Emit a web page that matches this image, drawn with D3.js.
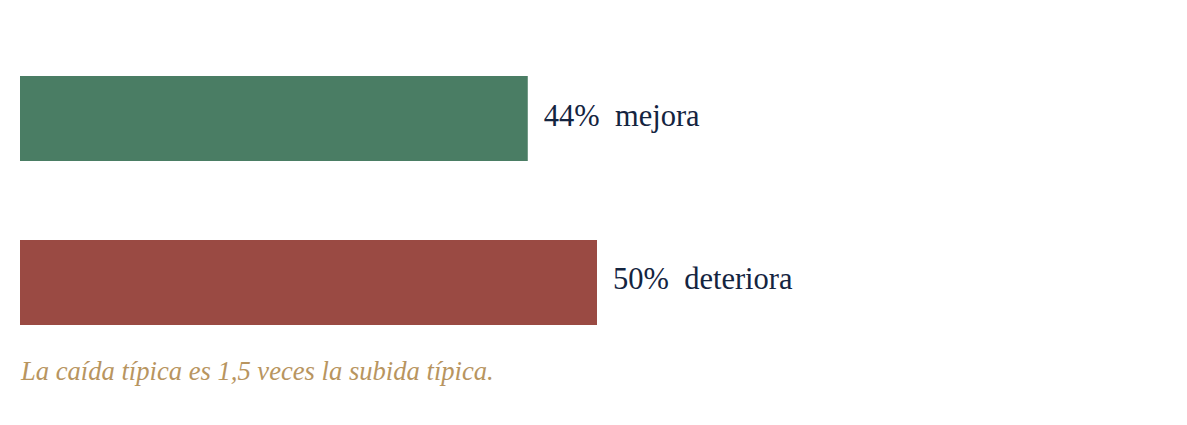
<!DOCTYPE html>
<html>
<head>
<meta charset="utf-8">
<script src="https://cdn.jsdelivr.net/npm/d3@7"></script>
<style>
  body { margin: 0; background: #fff; }
  svg { display: block; }
</style>
</head>
<body>
<svg width="1187" height="425"></svg>
<script>
const categories = ['mejora', 'deteriora'];
const values = [44, 50];
const colors = ['#4a7d64', '#9a4a43'];
const note = 'La caída típica es 1,5 veces la subida típica.';

const svg = d3.select('svg');

const xScale = d3.scaleLinear().domain([0, 100]).range([20, 1174]);
const yScale = d3.scaleBand().domain(categories).range([76, 325]).paddingInner(0.4817).paddingOuter(0);

const rows = svg.selectAll('.row')
  .data(categories)
  .enter()
  .append('g')
  .classed('row', true);

rows.append('rect')
  .attr('x', xScale(0))
  .attr('y', d => yScale(d))
  .attr('width', (d, i) => xScale(values[i]) - xScale(0))
  .attr('height', yScale.bandwidth())
  .attr('fill', (d, i) => colors[i]);

// value + category label next to the bar end
rows.append('text')
  .attr('x', (d, i) => xScale(values[i]) + 16)
  .attr('y', d => yScale(d) + yScale.bandwidth() / 2 + 7)
  .attr('font-family', '"Liberation Serif", serif')
  .attr('font-size', 30.5)
  .attr('fill', '#14243f')
  .style('white-space', 'pre')
  .text((d, i) => values[i] + '%  ' + d);

svg.append('text')
  .attr('x', 21)
  .attr('y', 380)
  .attr('font-family', '"Liberation Serif", serif')
  .attr('font-style', 'italic')
  .attr('font-size', 26.6)
  .attr('fill', '#b8955f')
  .text(note);
</script>
</body>
</html>
